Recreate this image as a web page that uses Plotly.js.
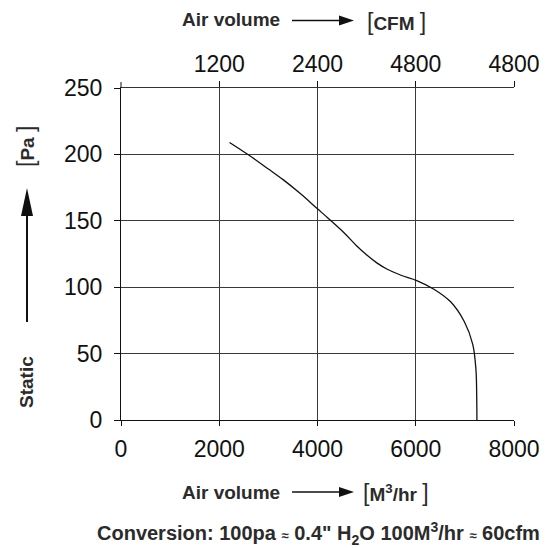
<!DOCTYPE html>
<html>
<head>
<meta charset="utf-8">
<script src="https://cdn.plot.ly/plotly-3.0.1.min.js"></script>
<style>html,body{margin:0;padding:0;background:#fff;}#chart{width:559px;height:548px;}</style>
</head>
<body>
<div id="chart"></div>
<script>
// Fan curve: air volume (M3/hr) vs static pressure (Pa)
var airVolume = [2210, 2600, 3000, 3300, 3650, 4000, 4200, 4540, 4800, 5010, 5200, 5420, 5700, 6020, 6370, 6710, 6990, 7160, 7225, 7242, 7245];
var staticPa  = [209, 199.5, 189, 181, 170.5, 159, 152.5, 141, 131, 124, 118.5, 113.5, 109, 105, 98.5, 89, 74, 57, 38, 15, 0];

var bottomTickVals = [0, 2000, 4000, 6000, 8000];
var bottomTickText = ['0', '2000', '4000', '6000', '8000'];
var topTickVals = [2000, 4000, 6000, 8000];
var topTickText = ['1200', '2400', '4800', '4800'];
var yTickVals = [0, 50, 100, 150, 200, 250];

var W = 559, H = 548;
var L = 121, R = 514, T = 88, B = 420;
function px(x) { return (x - L) / (R - L); }
function py(y) { return (B - y) / (B - T); }

var tickFont = {family: 'Liberation Sans, Arial, sans-serif', size: 23, color: '#111'};
var boldFont = {family: 'Liberation Sans, Arial, sans-serif', size: 19, color: '#2b2b2b'};
var gridColor = '#3a3a3a';

var trace = {
  x: airVolume, y: staticPa, type: 'scatter', mode: 'lines',
  line: {color: '#111', width: 1.3, shape: 'spline', smoothing: 1},
  hoverinfo: 'skip', showlegend: false
};
var traceTop = {x: [2000], y: [0], xaxis: 'x2', yaxis: 'y', mode: 'markers', marker: {opacity: 0}, showlegend: false, hoverinfo: 'skip'};

function hArrow(x0, x1, y) {
  var len = 15, hw = 5;
  return [
    {type: 'line', xref: 'paper', yref: 'paper', x0: px(x0), x1: px(x1 - len + 2), y0: py(y), y1: py(y), line: {color: '#111', width: 1.7}},
    {type: 'path', xref: 'paper', yref: 'paper', fillcolor: '#111', line: {width: 0},
     path: 'M' + px(x1) + ',' + py(y) + ' L' + px(x1 - len) + ',' + py(y - hw) + ' L' + px(x1 - len) + ',' + py(y + hw) + ' Z'}
  ];
}
function vArrow(x, y0, y1) {
  var len = 28, hw = 6;
  return [
    {type: 'line', xref: 'paper', yref: 'paper', x0: px(x), x1: px(x), y0: py(y0), y1: py(y1 + len - 2), line: {color: '#111', width: 2}},
    {type: 'path', xref: 'paper', yref: 'paper', fillcolor: '#111', line: {width: 0},
     path: 'M' + px(x) + ',' + py(y1) + ' L' + px(x - hw) + ',' + py(y1 + len) + ' L' + px(x + hw) + ',' + py(y1 + len) + ' Z'}
  ];
}

var shapes = [].concat(hArrow(292, 354, 20.5), hArrow(292, 354, 492), vArrow(27, 322, 188));
// short tick above the top-left corner
shapes.push({type: 'line', xref: 'paper', yref: 'paper', x0: 0, x1: 0, y0: 1, y1: py(T - 6), line: {color: '#111', width: 1}});

function ann(text, x, y, opts) {
  var a = {text: text, x: px(x), y: py(y), xref: 'paper', yref: 'paper', showarrow: false,
           xanchor: 'center', yanchor: 'middle', font: boldFont};
  for (var k in opts) a[k] = opts[k];
  return a;
}
var br = function (s) { return '<span style="font-size:23px;font-weight:normal">' + s + '</span>'; };

var annotations = [
  ann('<b>Air volume</b>', 231, 19),
  ann(br('[') + '<b>CFM </b>' + br(']'), 396, 22),
  ann('<b>Air volume</b>', 231, 492),
  ann(br('[') + '<b>M<sup>3</sup>/hr </b>' + br(']'), 396, 493),
  ann('<b>Static</b>', 26, 382, {textangle: -90}),
  ann(br('[') + '<b>Pa </b>' + br(']'), 26, 147, {textangle: -90}),
  ann('<b>Conversion: 100pa <span style="font-size:13px">≈</span> 0.4" H<sub>2</sub>O 100M<sup>3</sup>/hr <span style="font-size:13px">≈</span> 60cfm</b>', 318, 533, {font: {family: 'Liberation Sans, Arial, sans-serif', size: 20, color: '#2b2b2b'}})
];

var layout = {
  width: W, height: H,
  margin: {l: L, r: W - R, t: T, b: H - B, pad: 0},
  paper_bgcolor: '#fff', plot_bgcolor: '#fff',
  showlegend: false,
  xaxis: {
    range: [0, 8000], tickvals: bottomTickVals, ticktext: bottomTickText,
    showgrid: true, gridcolor: gridColor, gridwidth: 1, zeroline: false,
    showline: true, linecolor: '#111', linewidth: 1,
    ticks: 'outside', ticklen: 5, tickcolor: '#111', tickfont: tickFont,
    ticklabelstandoff: 3, fixedrange: true
  },
  xaxis2: {
    range: [0, 8000], overlaying: 'x', side: 'top', anchor: 'y',
    tickvals: topTickVals, ticktext: topTickText,
    showgrid: false, zeroline: false, showline: true, linecolor: '#333', linewidth: 1,
    ticks: 'outside', ticklen: 6, tickcolor: '#111', tickfont: tickFont, fixedrange: true
  },
  yaxis: {
    range: [0, 250], tickvals: yTickVals,
    showgrid: true, gridcolor: gridColor, gridwidth: 1, zeroline: false,
    showline: true, linecolor: '#111', linewidth: 1,
    ticks: 'outside', ticklen: 6, tickcolor: '#111', tickfont: tickFont,
    ticklabelstandoff: 7, fixedrange: true
  },
  shapes: shapes,
  annotations: annotations
};

Plotly.newPlot('chart', [trace, traceTop], layout, {displayModeBar: false, staticPlot: true});
</script>
</body>
</html>
